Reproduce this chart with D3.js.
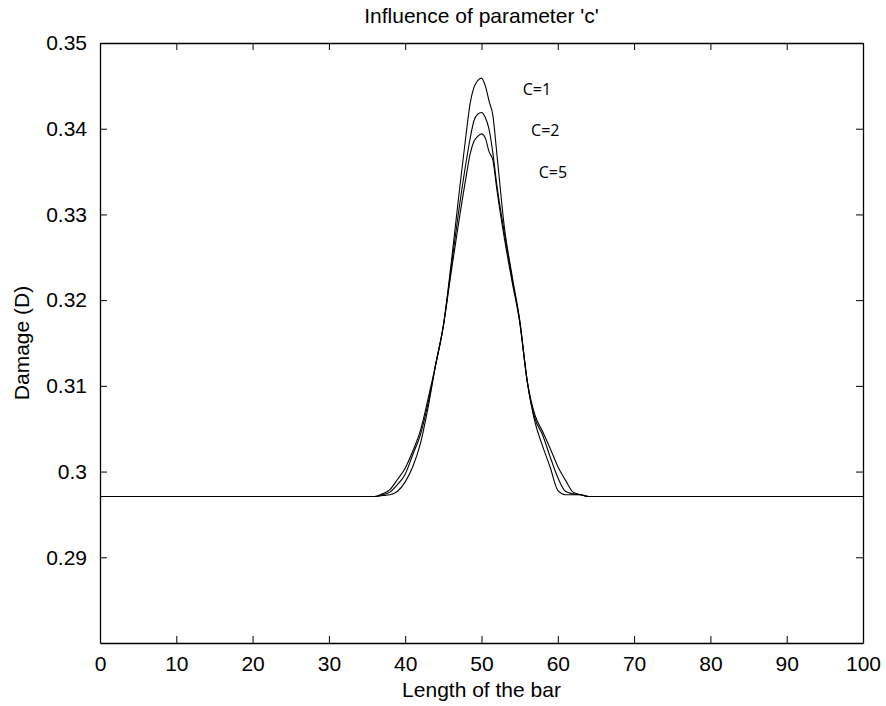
<!DOCTYPE html>
<html>
<head>
<meta charset="utf-8">
<script src="https://cdn.jsdelivr.net/npm/d3@7"></script>
<style>
  body { margin: 0; background: #fff; }
  svg text { font-family: "Liberation Sans", Arial, sans-serif; fill: #000; }
</style>
</head>
<body>
<svg id="chart" width="886" height="706"></svg>
<script>
// positions along the bar (shared by all curves)
const xs = [0, 32, 36, 37, 38, 39, 40, 41, 42, 43, 44, 45, 46, 47, 48, 48.5, 49, 49.5, 50,
            50.5, 51, 51.5, 52, 53, 54, 55, 56, 57, 58, 59, 60, 61, 62, 63, 64, 100];

// damage values (null = curve not drawn there)
const damageC1 = [0.2971, 0.2971, 0.2971, 0.2972, 0.2973, 0.2977, 0.2988, 0.3006, 0.3033, 0.3075, 0.3125, 0.3170, 0.3241, 0.3320, 0.3395, 0.3429, 0.3448, 0.3456, 0.3459,
                  0.3450, 0.3432, 0.3415, 0.3372, 0.3285, 0.3229, 0.3177, 0.3105, 0.3058, 0.3030, 0.3005, 0.2978, 0.2973, 0.2973, 0.2973, 0.2971, 0.2971];
const damageC2 = [null, 0.2971, 0.2971, 0.2973, 0.2976, 0.2985, 0.2997, 0.3020, 0.3043, 0.3080, 0.3125, 0.3170, 0.3236, 0.3303, 0.3362, 0.3388, 0.3409, 0.3417, 0.3419,
                  0.3413, 0.3399, 0.3371, 0.3335, 0.3278, 0.3225, 0.3176, 0.3105, 0.3062, 0.3043, 0.3017, 0.2993, 0.2977, 0.2974, 0.2973, 0.2971, 0.2971];
const damageC5 = [null, 0.2971, 0.2971, 0.2974, 0.2979, 0.2991, 0.3004, 0.3024, 0.3048, 0.3085, 0.3125, 0.3170, 0.3231, 0.3290, 0.3345, 0.3370, 0.3385, 0.3391, 0.3394,
                  0.3389, 0.3373, 0.3363, 0.3330, 0.3272, 0.3222, 0.3175, 0.3105, 0.3066, 0.3047, 0.3027, 0.3006, 0.2990, 0.2976, 0.2973, 0.2971, 0.2971];

const seriesNames = ["C=1", "C=2", "C=5"];
// where each curve label sits, in data units
const labelX = [55.4, 56.5, 57.5];
const labelY = [0.3439, 0.3392, 0.3342];

const xTicks = [0, 10, 20, 30, 40, 50, 60, 70, 80, 90, 100];
const yTicks = [0.29, 0.30, 0.31, 0.32, 0.33, 0.34, 0.35];
const yTickLabels = ["0.29", "0.3", "0.31", "0.32", "0.33", "0.34", "0.35"];

const margin = { top: 43, right: 23, bottom: 63, left: 100 };
const width = 886 - margin.left - margin.right;
const height = 706 - margin.top - margin.bottom;

const svg = d3.select("#chart");
const g = svg.append("g").attr("transform", `translate(${margin.left},${margin.top})`);

const x = d3.scaleLinear().domain([0, 100]).range([0, width]);
const y = d3.scaleLinear().domain([0.28, 0.35]).range([height, 0]);

// axes, ticks pointing inwards, mirrored on top and right
const fontSize = "21px";
const bottomAxis = d3.axisBottom(x).tickValues(xTicks).tickSizeInner(-7).tickSizeOuter(0).tickPadding(13);
const topAxis = d3.axisTop(x).tickValues(xTicks).tickSizeInner(-7).tickSizeOuter(0).tickFormat("");
const leftAxis = d3.axisLeft(y).tickValues(yTicks).tickSizeInner(-7).tickSizeOuter(0).tickPadding(13)
    .tickFormat((d, i) => yTickLabels[i]);
const rightAxis = d3.axisRight(y).tickValues(yTicks).tickSizeInner(-7).tickSizeOuter(0).tickFormat("");

g.append("g").attr("transform", `translate(0,${height})`).call(bottomAxis)
    .selectAll("text").style("font-size", fontSize).attr("font-family", null);
g.append("g").call(topAxis);
g.append("g").call(leftAxis)
    .selectAll("text").style("font-size", fontSize).attr("font-family", null);
g.append("g").attr("transform", `translate(${width},0)`).call(rightAxis);

g.selectAll(".domain").attr("stroke", "#000").attr("stroke-width", 1.3);
g.selectAll(".tick line").attr("stroke", "#000");

// curves
const line = d3.line()
    .defined(d => d[1] !== null)
    .x(d => x(d[0]))
    .y(d => y(d[1]))
    .curve(d3.curveMonotoneX);

[damageC1, damageC2, damageC5].forEach(vals => {
    g.append("path")
        .datum(xs.map((v, i) => [v, vals[i]]))
        .attr("fill", "none")
        .attr("stroke", "#000")
        .attr("stroke-width", 1.1)
        .attr("d", line);
});

// curve labels
seriesNames.forEach((name, i) => {
    g.append("text")
        .attr("x", x(labelX[i]))
        .attr("y", y(labelY[i]))
        .style("font-family", "'Open Sans', sans-serif")
        .style("font-size", "16px")
        .text(name);
});

// title and axis titles
svg.append("text")
    .attr("x", margin.left + width / 2)
    .attr("y", 23)
    .attr("text-anchor", "middle")
    .style("font-size", "21px")
    .text("Influence of parameter 'c'");

svg.append("text")
    .attr("x", margin.left + width / 2)
    .attr("y", 697)
    .attr("text-anchor", "middle")
    .style("font-size", "21px")
    .text("Length of the bar");

svg.append("text")
    .attr("transform", `translate(29,${margin.top + height / 2}) rotate(-90)`)
    .attr("text-anchor", "middle")
    .style("font-size", "21px")
    .text("Damage (D)");
</script>
</body>
</html>
